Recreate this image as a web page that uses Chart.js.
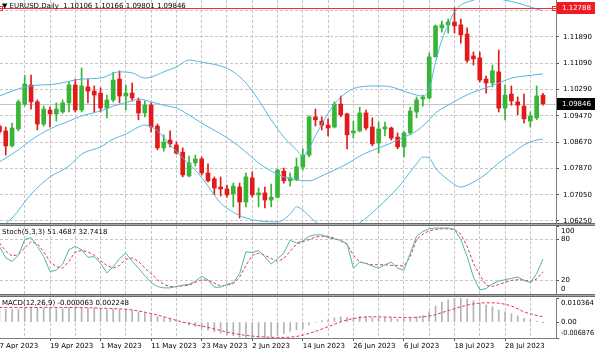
<!DOCTYPE html>
<html>
<head>
<meta charset="utf-8">
<script src="https://cdn.jsdelivr.net/npm/chart.js@4.4.0/dist/chart.umd.min.js"></script>
<style>
  html, body { margin: 0; padding: 0; background: #fff; }
  #wrap { position: relative; width: 595px; height: 349px; overflow: hidden; background: #fff; font-family: 'DejaVu Sans', sans-serif; }
  canvas { position: absolute; left: 0; }
  .sep { position: absolute; left: 0; width: 595px; height: 3px; box-sizing: border-box; background: #a8a8a8; border-top: 1px solid #6a6a6a; border-bottom: 1px solid #6a6a6a; }
  .cap { position: absolute; left: 2px; font-size: 7px; line-height: 8px; color: #000; white-space: pre; }
</style>
</head>
<body>
<div id="wrap">
  <canvas id="main" width="595" height="224" style="top:0"></canvas>
  <canvas id="stoch" width="595" height="68" style="top:226px"></canvas>
  <canvas id="macd" width="595" height="52" style="top:297px"></canvas>
  <div class="sep" style="top:223px"></div>
  <div class="sep" style="top:294px"></div>
  <div class="cap" id="capMain" style="top:2px"></div>
  <div class="cap" id="capStoch" style="top:228px"></div>
  <div class="cap" id="capMacd" style="top:299px"></div>
</div>
<script>
const symbolName = 'EURUSD,Daily';

// one label every 8 daily bars, starting with the first bar
const tickDates = ['7 Apr 2023', '19 Apr 2023', '1 May 2023', '11 May 2023', '23 May 2023', '2 Jun 2023',
                   '14 Jun 2023', '26 Jun 2023', '6 Jul 2023', '18 Jul 2023', '28 Jul 2023'];
const priceTicks = [1.0625, 1.0705, 1.0787, 1.0867, 1.0947, 1.1029, 1.1109, 1.1189, 1.1269];
const stochLevels = [0, 20, 80, 100];

// daily candles, 7 Apr .. 7 Aug
const opens = [1.0916,1.0901,1.0855,1.0907,1.0983,1.1042,1.0990,1.0922,1.0965,1.0953,
  1.0959,1.0987,1.1042,1.0965,1.1036,1.1023,1.1017,1.0971,1.0996,1.1060,
  1.1008,1.1017,1.0993,1.0956,1.0980,1.0916,1.0849,1.0873,1.0858,1.0836,
  1.0763,1.0803,1.0815,1.0772,1.0754,1.0729,1.0723,1.0708,1.0729,1.0683,
  1.0757,1.0705,1.0711,1.0689,1.0698,1.0778,1.0748,1.0751,1.0790,1.0827,
  1.0944,1.0931,1.0919,1.0913,1.0983,1.0953,1.0895,1.0901,1.0956,1.0913,
  1.0864,1.0907,1.0910,1.0882,1.0852,1.0895,1.0959,1.0999,1.1002,1.1128,
  1.1217,1.1226,1.1235,1.1226,1.1198,1.1131,1.1125,1.1060,1.1048,1.1082,
  1.0971,1.1014,1.0990,1.0977,1.0931,1.0941,1.10106];
const highs = [1.0922,1.0913,1.0925,1.0996,1.1072,1.1072,1.0996,1.0977,1.0974,1.0987,
  1.0996,1.1051,1.1060,1.1094,1.1060,1.1039,1.1033,1.1011,1.1081,1.1085,
  1.1042,1.1048,1.1002,1.0993,1.0987,1.0922,1.0889,1.0901,1.0867,1.0849,
  1.0824,1.0827,1.0821,1.0800,1.0760,1.0760,1.0735,1.0741,1.0741,1.0772,
  1.0775,1.0726,1.0729,1.0738,1.0784,1.0787,1.0772,1.0818,1.0846,1.0947,
  1.0968,1.0944,1.0938,1.0990,1.1008,1.0956,1.0931,1.0974,1.0965,1.0941,
  1.0928,1.0928,1.0913,1.0895,1.0898,1.0974,1.1005,1.1011,1.1140,1.1226,
  1.1238,1.1244,1.12788,1.1244,1.1217,1.1143,1.1143,1.1069,1.1103,1.1149,
  1.1042,1.1039,1.1005,1.1014,1.0959,1.1039,1.10166];
const lows = [1.0892,1.0827,1.0852,1.0901,1.0977,1.0968,1.0904,1.0916,1.0913,1.0931,
  1.0955,1.0959,1.0959,1.0959,1.0987,1.0959,1.0959,1.0941,1.0990,1.0987,
  1.0965,1.0993,1.0935,1.0944,1.0898,1.0843,1.0839,1.0852,1.0830,1.0760,
  1.0760,1.0793,1.0766,1.0745,1.0705,1.0701,1.0698,1.0668,1.0634,1.0668,
  1.0698,1.0668,1.0665,1.0668,1.0695,1.0741,1.0732,1.0748,1.0781,1.0821,
  1.0916,1.0904,1.0886,1.0910,1.0944,1.0846,1.0879,1.0898,1.0904,1.0855,
  1.0833,1.0886,1.0873,1.0846,1.0821,1.0889,1.0941,1.0977,1.0999,1.1128,
  1.1204,1.1201,1.1201,1.1170,1.1111,1.1103,1.1051,1.1017,1.1036,1.0959,
  1.0935,1.0980,1.0950,1.0925,1.0913,1.0935,1.09801];
const closes = [1.0898,1.0855,1.0910,1.0990,1.1045,1.0990,1.0922,1.0968,1.0953,1.0968,
  1.0987,1.1042,1.0965,1.1039,1.1023,1.1011,1.0971,1.0996,1.1057,1.1008,
  1.1017,1.1002,1.0956,1.0980,1.0913,1.0849,1.0867,1.0861,1.0833,1.0766,
  1.0803,1.0815,1.0772,1.0748,1.0726,1.0723,1.0705,1.0732,1.0683,1.0760,
  1.0705,1.0711,1.0689,1.0698,1.0781,1.0748,1.0757,1.0791,1.0827,1.0944,
  1.0935,1.0919,1.0910,1.0983,1.0950,1.0889,1.0901,1.0956,1.0910,1.0861,
  1.0907,1.0913,1.0879,1.0852,1.0895,1.0962,1.0996,1.1005,1.1128,1.1223,
  1.1226,1.1235,1.1223,1.1195,1.1117,1.1122,1.1057,1.1048,1.1085,1.0971,
  1.1011,1.0993,1.0980,1.0938,1.0947,1.1008,1.09846];

// Bollinger bands, sampled at bar numbers
const upperIdx = [0,3,5,9,13,16,19,21,23,24,26,28,30,32,35,37,39,41,43,45,47,48,49,50,51,53,55,57,60,62,
  64,66,67,68,69,70,71,72,73,74,75,76,77,78,79,80,82,84,86];
const upperBand = [1.1008,1.1030,1.1039,1.1045,1.1060,1.1063,1.1082,1.1079,1.1063,1.1066,
  1.1082,1.1097,1.1118,1.1112,1.1100,1.1082,1.1048,1.0996,1.0935,1.0882,
  1.0843,1.0824,1.0849,1.0886,1.0922,1.0983,1.1020,1.1036,1.1039,1.1036,
  1.1023,1.1011,1.1008,1.1030,1.1112,1.1180,1.1226,1.1266,1.1287,1.1296,
  1.1302,1.1309,1.1312,1.1309,1.1306,1.1302,1.1293,1.1281,1.1269];
const midIdx = [0,3,5,8,11,13,16,18,21,22,24,26,28,30,32,35,37,39,41,43,45,47,49,51,53,55,57,60,62,64,
  66,68,69,71,73,75,77,79,81,83,86];
const midBand = [1.0806,1.0843,1.0873,1.0907,1.0931,1.0947,1.0962,1.0977,1.0993,1.0999,
  1.0990,1.0980,1.0971,1.0950,1.0925,1.0892,1.0867,1.0836,1.0803,1.0778,
  1.0760,1.0751,1.0748,1.0763,1.0781,1.0800,1.0824,1.0849,1.0864,1.0882,
  1.0901,1.0935,1.0956,1.0980,1.1002,1.1020,1.1033,1.1048,1.1063,1.1069,1.1076];
const lowerIdx = [0,2,5,8,11,13,16,18,20,22,23,25,27,29,31,33,35,37,39,41,44,46,47,48,49,50,51,53,55,57,
  60,63,66,67,68,69,71,73,75,77,79,81,83,85,86];
const lowerBand = [1.0603,1.0634,1.0707,1.0760,1.0793,1.0830,1.0852,1.0876,1.0891,1.0913,
  1.0919,1.0901,1.0858,1.0818,1.0781,1.0732,1.0680,1.0652,1.0634,1.0625,
  1.0622,1.0646,1.0668,1.0659,1.0640,1.0622,1.0610,1.0597,1.0600,1.0619,
  1.0668,1.0726,1.0800,1.0821,1.0818,1.0787,1.0751,1.0729,1.0744,1.0769,
  1.0803,1.0830,1.0858,1.0873,1.0876];

// Stochastic(5,3,3)
const stochK = [70,53,48,57,80,83,70,55,33,35, 44,65,70,65,54,55,45,31,40,52,
  60,48,38,27,17,11,9,9,11,13, 14,19,26,21,10,10,14,17,30,62,
  61,64,55,44,52,60,79,75,78,85, 87,87,83,81,79,74,38,47,45,41,
  38,43,47,38,35,60,85,92,96,97, 97,97,95,80,55,25,6,8,15,19,
  21,23,25,20,17,30,51.4687];
const stochD = [75,63,56,58,68,77,74,62,48,40, 38,48,62,64,62,57,49,42,38,42,
  51,53,48,38,30,21,14,11,11,12, 13,17,21,20,16,12,13,15,25,42,
  57,60,57,52,48,52,63,73,77,80, 84,85,85,82,78,73,57,47,45,43,
  43,43,42,42,41,55,80,88,93,95, 96,96,95,88,70,45,28,13,11,14,
  17,20,21,21,18,22,32.7418];

// MACD(12,26,9): main line as histogram, signal sampled at bar numbers
const macdMain = [0.0058,0.0055,0.0054,0.0056,0.0062,0.0064,0.0061,0.0060,
  0.0059,0.0058,0.0058,0.0061,0.0060,0.0062,0.0061,0.0060,
  0.0057,0.0053,0.0055,0.0054,0.0051,0.0049,0.0044,0.0040,
  0.0031,0.0024,0.0018,0.0013,0.0008,-0.0003,-0.0012,-0.0020,
  -0.0028,-0.0035,-0.0042,-0.0048,-0.0054,-0.0059,-0.0066,-0.0066,
  -0.006876,-0.0067,-0.0066,-0.0064,-0.0058,-0.0050,-0.0040,-0.0034,
  -0.0028,-0.0012,-0.0002,0.0006,0.0010,0.0018,0.0022,0.0020,
  0.0020,0.0024,0.0024,0.0019,0.0019,0.0019,0.0017,0.0013,
  0.0014,0.0016,0.0022,0.0028,0.0045,0.0070,0.0086,0.0096,
  0.0102,0.010364,0.0099,0.0092,0.0082,0.0073,0.0066,0.0052,
  0.0044,0.0036,0.0027,0.0016,0.0008,0.0004,-0.000063];
const signalIdx = [0,8,16,21,25,29,33,37,41,45,47,49,52,55,59,64,68,71,74,77,79,81,83,86];
const signalVals = [0.0063,0.0063,0.0060,0.0052,0.0030,0.0000,-0.0023,-0.0049,-0.0063,-0.0066,
  -0.0062,-0.0049,-0.0020,0.0009,0.0023,0.0020,0.0026,0.0049,0.0073,0.0083,
  0.0081,0.0069,0.0044,0.002248];

// ---- look ----
const FONT = { family: 'DejaVu Sans', size: 7 };
const GRID = '#c6c6c6';
const AXIS = '#7c7c7c';
const TICK = '#555555';
const UP = '#36b536';
const DOWN = '#e31a1c';
const BAND = '#55b6e2';
const AXIS_W = 39;
const X_MIN = 0.0886, X_MAX = 88.06;   // bar spacing ~6.3px, two empty bars on the right
const PRICE_MIN = 1.06156, PRICE_MAX = 1.13024;
const DATE_STEP = 8, GRID_STEP = 4;
const NONE = 'rgba(0,0,0,0)';

const last = a => a[a.length - 1];

document.getElementById('capMain').textContent = '\u25BC ' + symbolName + '  ' +
  [last(opens), last(highs), last(lows), last(closes)].map(v => v.toFixed(5)).join(' ');
document.getElementById('capStoch').textContent = 'Stoch(5,3,3) ' + last(stochK).toFixed(4) + ' ' + last(stochD).toFixed(4);
document.getElementById('capMacd').textContent = 'MACD(12,26,9) ' + last(macdMain).toFixed(6) + ' ' + last(signalVals).toFixed(6);

function xAxis(withDates) {
  return {
    type: 'linear', min: X_MIN, max: X_MAX, offset: false,
    afterBuildTicks: s => {
      const t = [];
      for (let v = 0; v <= 84; v += GRID_STEP) t.push({ value: v });
      s.ticks = t;
    },
    afterFit: s => { s.height = withDates ? 11 : 0; s.paddingLeft = 0; s.paddingRight = 0; },
    grid: {
      color: GRID, offset: false, drawTicks: withDates, tickLength: 3, tickBorderDash: [],
      tickColor: c => (c.tick && c.tick.value % DATE_STEP === 0) ? TICK : NONE
    },
    border: { display: withDates, color: AXIS, dash: [3, 2] },
    ticks: {
      display: withDates, autoSkip: false, maxRotation: 0, minRotation: 0, align: 'start', padding: 1,
      font: FONT, color: '#000',
      callback: v => v % DATE_STEP === 0 ? (tickDates[v / DATE_STEP] || '') : ''
    }
  };
}

function yAxis(min, max, ticks, extra) {
  return Object.assign({
    position: 'right', min: min, max: max,
    afterBuildTicks: s => { s.ticks = ticks.map(v => ({ value: v })); },
    afterFit: s => { s.width = AXIS_W; s.paddingTop = 0; s.paddingBottom = 0; },
    border: { display: true, color: AXIS, dash: [3, 2] }
  }, extra);
}

const baseOptions = {
  responsive: false, animation: false, devicePixelRatio: 1, events: [],
  plugins: { legend: { display: false }, tooltip: { enabled: false } }
};

const pts = (idx, vals) => idx.map((x, k) => ({ x: x, y: vals[k] }));
const series = vals => vals.map((y, i) => ({ x: i, y: y }));

// labels for the indicator panes, kept inside the pane edges
function sideLabels(values, fmt) {
  return {
    id: 'sideLabels',
    afterDraw(chart) {
      const s = chart.scales.y, ctx = chart.ctx;
      ctx.save();
      ctx.font = FONT.size + 'px ' + FONT.family;
      ctx.fillStyle = '#000';
      ctx.textBaseline = 'middle';
      values.forEach(v => {
        let y = s.getPixelForValue(v);
        y = Math.min(Math.max(y, s.top + 5), s.bottom - 5);
        ctx.fillText(fmt(v), s.left + 5, y, AXIS_W - 6);
      });
      ctx.restore();
    }
  };
}

// high line, last price line and the two price boxes
const highPrice = Math.max(...highs);
const lastPrice = last(closes);
const priceMarks = {
  id: 'priceMarks',
  beforeDatasetsDraw(chart) {
    const { ctx, chartArea: a } = chart;
    const y = Math.round(chart.scales.y.getPixelForValue(lastPrice)) + 0.5;
    ctx.save();
    ctx.strokeStyle = '#c4c4c4';
    ctx.lineWidth = 1;
    ctx.beginPath(); ctx.moveTo(a.left, y); ctx.lineTo(a.right, y); ctx.stroke();
    ctx.restore();
  },
  afterDraw(chart) {
    const { ctx, chartArea: a } = chart;
    const s = chart.scales.y;
    const yh = Math.round(s.getPixelForValue(highPrice)) + 0.5;
    ctx.save();
    ctx.strokeStyle = '#ee3030';
    ctx.lineWidth = 1;
    ctx.beginPath(); ctx.moveTo(a.left, yh); ctx.lineTo(a.right, yh); ctx.stroke();
    ctx.strokeRect(a.left - 1.5, yh - 2, 4, 4);
    ctx.strokeRect(a.right - 3.5, yh - 2, 4, 4);

    const box = (v, bg) => {
      const y = s.getPixelForValue(v);
      ctx.fillStyle = bg;
      ctx.fillRect(a.right + 1, Math.round(y) - 6, AXIS_W - 1, 12);
      ctx.fillStyle = '#fff';
      ctx.font = FONT.size + 'px ' + FONT.family;
      ctx.textBaseline = 'middle';
      ctx.fillText(v.toFixed(5), a.right + 6, Math.round(y), AXIS_W - 8);
    };
    box(highPrice, '#ee1c24');
    box(lastPrice, '#000');
    ctx.restore();
  }
};

const candleColors = closes.map((c, i) => c >= opens[i] ? UP : DOWN);
const bandLine = (idx, vals) => ({
  type: 'line', data: pts(idx, vals), borderColor: BAND, borderWidth: 1,
  pointRadius: 0, cubicInterpolationMode: 'monotone', order: 0
});

new Chart(document.getElementById('main'), {
  type: 'bar',
  data: {
    datasets: [
      bandLine(upperIdx, upperBand),
      bandLine(midIdx, midBand),
      bandLine(lowerIdx, lowerBand),
      { data: opens.map((o, i) => ({ x: i, y: [o, closes[i]] })), backgroundColor: candleColors,
        barThickness: 4, minBarLength: 1, grouped: false, borderWidth: 0, order: 1 },
      { data: lows.map((l, i) => ({ x: i, y: [l, highs[i]] })), backgroundColor: candleColors,
        barThickness: 1, grouped: false, borderWidth: 0, order: 2 }
    ]
  },
  options: Object.assign({}, baseOptions, {
    layout: { padding: 0 },
    scales: {
      x: xAxis(false),
      y: yAxis(PRICE_MIN, PRICE_MAX, priceTicks, {
        grid: { color: GRID, drawTicks: true, tickLength: 3, tickColor: TICK, tickBorderDash: [] },
        ticks: { padding: 4, font: FONT, color: '#000', autoSkip: false, callback: v => v.toFixed(5) }
      })
    }
  }),
  plugins: [priceMarks]
});

new Chart(document.getElementById('stoch'), {
  type: 'line',
  data: {
    datasets: [
      { data: series(stochK), borderColor: '#52b3ab', borderWidth: 1, pointRadius: 0 },
      { data: series(stochD), borderColor: '#e2394d', borderWidth: 1, borderDash: [3, 2], pointRadius: 0 }
    ]
  },
  options: Object.assign({}, baseOptions, {
    layout: { padding: 0 },
    scales: {
      x: xAxis(false),
      y: yAxis(0, 100, stochLevels, {
        grid: {
          color: c => (c.tick && c.tick.value > 0 && c.tick.value < 100) ? GRID : NONE,
          drawTicks: true, tickLength: 3, tickColor: TICK, tickBorderDash: []
        },
        ticks: { display: false }
      })
    }
  }),
  plugins: [sideLabels(stochLevels, v => String(v))]
});

const macdMax = Math.max(...macdMain, ...signalVals);
const macdMin = Math.min(...macdMain, ...signalVals);
new Chart(document.getElementById('macd'), {
  type: 'bar',
  data: {
    datasets: [
      { type: 'line', data: pts(signalIdx, signalVals), borderColor: '#e2394d', borderWidth: 1,
        borderDash: [3, 2], pointRadius: 0, cubicInterpolationMode: 'monotone', order: 0 },
      { data: series(macdMain), backgroundColor: '#b3b3b3', barThickness: 1, borderWidth: 0, order: 1 }
    ]
  },
  options: Object.assign({}, baseOptions, {
    layout: { padding: { top: 1, left: 0, right: 0, bottom: 0 } },
    scales: {
      x: xAxis(true),
      y: yAxis(macdMin, macdMax, [macdMax, 0, macdMin], {
        grid: { color: NONE, drawTicks: true, tickLength: 3, tickColor: TICK, tickBorderDash: [] },
        ticks: { display: false }
      })
    }
  }),
  plugins: [sideLabels([macdMax, 0, macdMin], v => v === 0 ? '0.00' : v.toFixed(6))]
});
</script>
</body>
</html>
